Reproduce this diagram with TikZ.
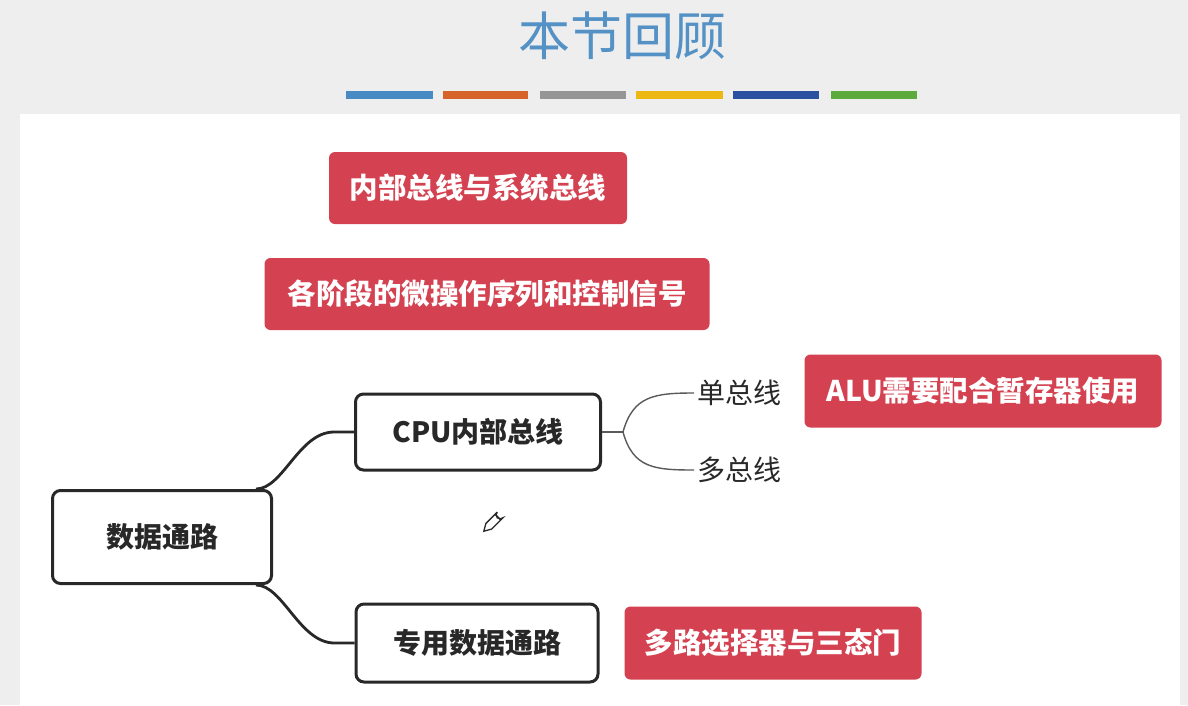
\documentclass[tikz,border=0pt]{standalone}
\usepackage{fontspec}
\setmainfont{Noto Sans CJK SC}
\usetikzlibrary{positioning,calc}
\definecolor{PageGray}{RGB}{238,238,239}
\definecolor{TitleBlue}{RGB}{84,146,198}
\definecolor{BoxRed}{RGB}{212,65,80}
\definecolor{InkDark}{RGB}{40,40,40}
\definecolor{LineGray}{RGB}{90,90,90}
\definecolor{BarBlue}{RGB}{74,138,196}
\definecolor{BarOrange}{RGB}{214,100,40}
\definecolor{BarGray}{RGB}{150,150,150}
\definecolor{BarYellow}{RGB}{238,184,20}
\definecolor{BarNavy}{RGB}{44,80,160}
\definecolor{BarGreen}{RGB}{92,170,60}
\tikzset{
  tag/.style={fill=BoxRed,rounded corners=6pt,text=white,font=\fontsize{28.5}{33}\selectfont\bfseries,inner sep=0pt,align=center},
  topic/.style={draw=InkDark,line width=3pt,rounded corners=8pt,fill=white,text=InkDark,font=\fontsize{28}{33}\selectfont\bfseries,inner sep=0pt,align=center},
  leaf/.style={text=InkDark,font=\fontsize{28}{33}\selectfont,inner sep=0pt,anchor=west},
  mainlink/.style={draw=InkDark,line width=2.8pt},
  sublink/.style={draw=LineGray,line width=1.4pt},
  bar/.style={line width=8pt}
}
\begin{document}
\begin{tikzpicture}[x=1pt,y=-1pt]
\useasboundingbox (0,0) rectangle (1188,705);
\fill[PageGray] (0,0) rectangle (1188,705);
\fill[white] (20,114) rectangle (1180,705);

% title and colour bars
\node[text=TitleBlue,font=\fontsize{52}{56}\selectfont,inner sep=0pt] (title) at (622,36) {本节回顾};
\foreach \xa/\xb/\col in {346/433/BarBlue,443/528/BarOrange,540/626/BarGray,636/723/BarYellow,733/819/BarNavy,831/917/BarGreen}
  \draw[bar,\col] (\xa,95) -- (\xb,95);

% red notes
\node[tag,minimum width=298pt,minimum height=72pt] (bus) at (478,188) {内部总线与系统总线};
\node[tag,minimum width=445pt,minimum height=72pt] (micro) at (487,294) {各阶段的微操作序列和控制信号};
\node[tag,minimum width=357pt,minimum height=73pt] (alu) at (983,391) {ALU需要配合暂存器使用};
\node[tag,minimum width=297pt,minimum height=73pt] (mux) at (773,643) {多路选择器与三态门};

% mind map
\node[topic,minimum width=219pt,minimum height=93pt] (root) at (162,537) {数据通路};
\node[topic,minimum width=245pt,minimum height=76pt] (cpu) at (478,432) {CPU内部总线};
\node[topic,minimum width=242pt,minimum height=78pt] (ded) at (477,643) {专用数据通路};
\node[leaf] (single) at (697,393) {单总线};
\node[leaf] (multi) at (697,470) {多总线};

\draw[mainlink] ([xshift=-17pt]root.north east) .. controls ([xshift=10pt]root.north east) and ($(cpu.west)+(-55,0)$) .. ($(cpu.west)+(-20,0)$) -- (cpu.west);
\draw[mainlink] ([xshift=-17pt]root.south east) .. controls ([xshift=10pt]root.south east) and ($(ded.west)+(-55,0)$) .. ($(ded.west)+(-20,0)$) -- (ded.west);
\coordinate (fork) at ($(cpu.east)+(21,0)$);
\draw[sublink] (cpu.east) -- (fork);
\draw[sublink] (fork) .. controls +(10,-36) and +(-40,0) .. ([xshift=-3pt]single.west);
\draw[sublink] (fork) .. controls +(10,36) and +(-40,0) .. ([xshift=-3pt]multi.west);

% pencil cursor
\begin{scope}[shift={(493,522)},rotate=-45,line width=1.3pt,draw=InkDark]
  \draw (-4,-10) -- (-4,6) -- (0,13) -- (4,6) -- (4,-10) arc (0:180:4);
  \draw (-4,-7) -- (4,-7);
\end{scope}
\end{tikzpicture}
\end{document}
